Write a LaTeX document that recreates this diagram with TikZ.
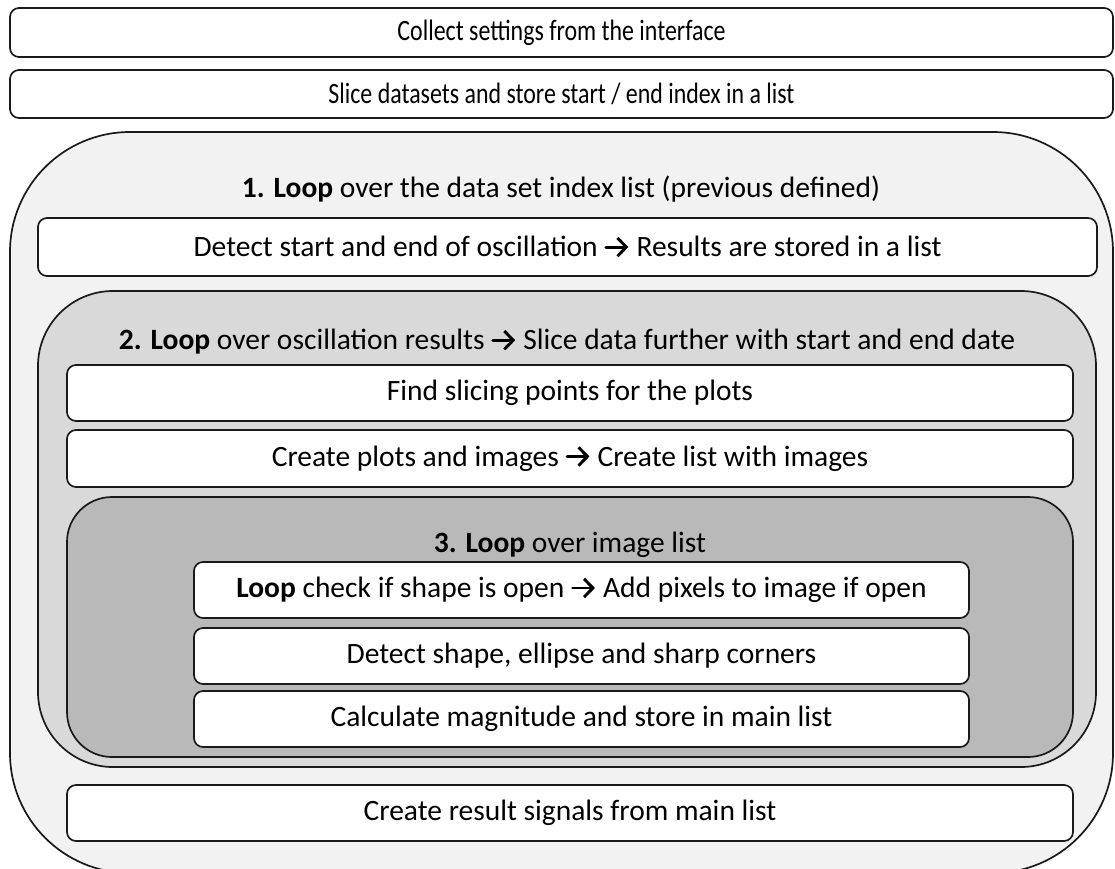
\documentclass[tikz,border=0pt]{standalone}
\usepackage{fontspec}
\usepackage{graphicx}
\usetikzlibrary{arrows.meta}
\setmainfont{Carlito}
% open-headed arrow used inside the step texts
\newcommand{\arrowsym}{\tikz[baseline=-0.33em]\draw[line width=0.1em, line cap=round, -{Straight Barb[length=0.3em, width=0.62em, line width=0.1em]}] (0,0) -- (0.76em,0);}
% narrow setting for the two preparation steps
\newcommand{\narrow}[1]{\scalebox{0.81}[1]{#1}}
\definecolor{loopA}{HTML}{F2F2F2}
\definecolor{loopB}{HTML}{D9D9D9}
\definecolor{loopC}{HTML}{B9B9B9}
\definecolor{edge}{HTML}{1A1A1A}
\begin{document}
\begin{tikzpicture}[x=1pt,y=-1pt,
  every node/.style={font=\fontsize{29.5}{34}\selectfont, text=black},
  procbox/.style={draw=edge, line width=1.7pt, fill=white, rounded corners=9pt, inner sep=0pt},
  loopbox/.style={draw=edge, line width=1.7pt, inner sep=0pt},
  looptitle/.style={inner sep=0pt}]
\useasboundingbox (0,0) rectangle (1115,868);
\fill[white] (0,0) rectangle (1115,868);

% preparation steps
\node[procbox, minimum width=1103pt, minimum height=49pt] (settings) at (561.5,32.5) {\narrow{Collect settings from the interface}};
\node[procbox, minimum width=1103pt, minimum height=48pt] (slice) at (561.5,94) {\narrow{Slice datasets and store start / end index in a list}};

% loop 1: data set index list
\node[loopbox, fill=loopA, rounded corners=120pt, minimum width=1103pt, minimum height=741pt] (loopone) at (561.5,502.5) {};
\node[looptitle] (titleone) at (561,189) {\textbf{1. Loop} over the data set index list (previous defined)};
\node[procbox, minimum width=1059pt, minimum height=58pt] (detect) at (567.5,247) {Detect start and end of oscillation \arrowsym\ Results are stored in a list};

% loop 2: oscillation results
\node[loopbox, fill=loopB, rounded corners=75pt, minimum width=1058pt, minimum height=476pt] (looptwo) at (567,529) {};
\node[looptitle] (titletwo) at (567,342) {\textbf{2. Loop} over oscillation results \arrowsym\ Slice data further with start and end date};
\node[procbox, minimum width=1006pt, minimum height=56pt] (findslice) at (570,393) {Find slicing points for the plots};
\node[procbox, minimum width=1006pt, minimum height=57pt] (plots) at (570,458.5) {Create plots and images \arrowsym\ Create list with images};

% loop 3: image list
\node[loopbox, fill=loopC, rounded corners=45pt, minimum width=1006pt, minimum height=260pt] (loopthree) at (570,627) {};
\node[looptitle] (titlethree) at (570,545) {\textbf{3. Loop} over image list};
\node[procbox, minimum width=775pt, minimum height=56pt] (openchk) at (581.5,590) {\textbf{Loop} check if shape is open \arrowsym\ Add pixels to image if open};
\node[procbox, minimum width=775pt, minimum height=56pt] (detshape) at (581.5,656) {Detect shape, ellipse and sharp corners};
\node[procbox, minimum width=775pt, minimum height=56pt] (magnitude) at (581.5,719) {Calculate magnitude and store in main list};

% final step inside loop 1
\node[procbox, minimum width=1006pt, minimum height=56pt] (result) at (570,813) {Create result signals from main list};
\end{tikzpicture}
\end{document}
